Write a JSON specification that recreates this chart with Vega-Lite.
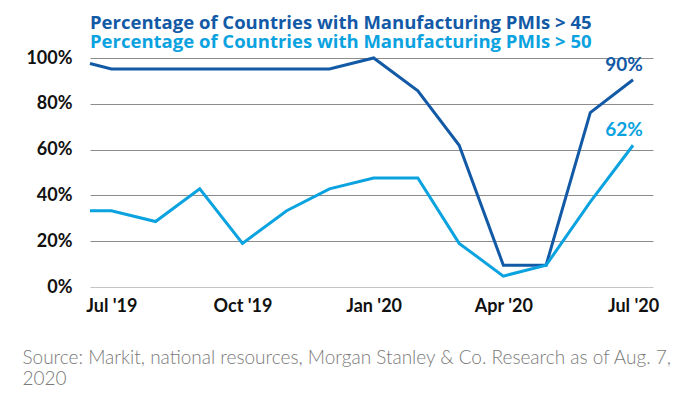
{
  "$schema": "https://vega.github.io/schema/vega-lite/v6.json",
  "autosize": {"type": "none"},
  "width": 563,
  "height": 229,
  "padding": {"left": 90, "top": 58, "right": 47, "bottom": 112},
  "background": "white",
  "config": {"view": {"stroke": null}, "font": "Lato"},
  "title": {
    "text": "Percentage of Countries with Manufacturing PMIs > 45",
    "subtitle": "Percentage of Countries with Manufacturing PMIs > 50",
    "anchor": "start",
    "frame": "group",
    "font": "Open Sans",
    "fontSize": 18.5,
    "fontWeight": "bold",
    "color": "#1259a6",
    "subtitleFont": "Open Sans",
    "subtitleFontSize": 18.5,
    "subtitleFontWeight": "bold",
    "subtitleColor": "#0ba2e0",
    "subtitlePadding": 0,
    "offset": -2
  },
  "data": {
    "values": [
      {"month": "2019-06-16", "series": "> 45", "value": 0.976},
      {"month": "2019-07-01", "series": "> 45", "value": 0.9524},
      {"month": "2019-08-01", "series": "> 45", "value": 0.9524},
      {"month": "2019-09-01", "series": "> 45", "value": 0.9524},
      {"month": "2019-10-01", "series": "> 45", "value": 0.9524},
      {"month": "2019-11-01", "series": "> 45", "value": 0.9524},
      {"month": "2019-12-01", "series": "> 45", "value": 0.9524},
      {"month": "2020-01-01", "series": "> 45", "value": 1.0},
      {"month": "2020-02-01", "series": "> 45", "value": 0.8571},
      {"month": "2020-03-01", "series": "> 45", "value": 0.619},
      {"month": "2020-04-01", "series": "> 45", "value": 0.0952},
      {"month": "2020-05-01", "series": "> 45", "value": 0.0952},
      {"month": "2020-06-01", "series": "> 45", "value": 0.7619},
      {"month": "2020-07-01", "series": "> 45", "value": 0.9048},
      {"month": "2019-06-16", "series": "> 50", "value": 0.3333},
      {"month": "2019-07-01", "series": "> 50", "value": 0.3333},
      {"month": "2019-08-01", "series": "> 50", "value": 0.2857},
      {"month": "2019-09-01", "series": "> 50", "value": 0.4286},
      {"month": "2019-10-01", "series": "> 50", "value": 0.1905},
      {"month": "2019-11-01", "series": "> 50", "value": 0.3333},
      {"month": "2019-12-01", "series": "> 50", "value": 0.4286},
      {"month": "2020-01-01", "series": "> 50", "value": 0.4762},
      {"month": "2020-02-01", "series": "> 50", "value": 0.4762},
      {"month": "2020-03-01", "series": "> 50", "value": 0.1905},
      {"month": "2020-04-01", "series": "> 50", "value": 0.0476},
      {"month": "2020-05-01", "series": "> 50", "value": 0.0952},
      {"month": "2020-06-01", "series": "> 50", "value": 0.3714},
      {"month": "2020-07-01", "series": "> 50", "value": 0.619}
    ]
  },
  "encoding": {
    "x": {
      "field": "month",
      "type": "temporal",
      "scale": {
        "type": "utc",
        "domain": [
          {"year": 2019, "month": 6, "date": 16, "utc": true},
          {"year": 2020, "month": 7, "date": 15, "utc": true}
        ]
      },
      "axis": {
        "values": [
          {"year": 2019, "month": 7, "date": 1, "utc": true},
          {"year": 2019, "month": 10, "date": 1, "utc": true},
          {"year": 2020, "month": 1, "date": 1, "utc": true},
          {"year": 2020, "month": 4, "date": 1, "utc": true},
          {"year": 2020, "month": 7, "date": 1, "utc": true}
        ],
        "labelExpr": "utcFormat(datum.value, \"%b '%y\")",
        "grid": false,
        "ticks": false,
        "domain": false,
        "labelFont": "Lato",
        "labelFontSize": 18,
        "labelFontWeight": "bold",
        "labelColor": "#111111",
        "labelPadding": 10,
        "title": ["Source: Markit, national resources, Morgan Stanley & Co. Research as of Aug. 7,", "2020"],
        "titleAnchor": "start",
        "titleAlign": "left",
        "titleBaseline": "alphabetic",
        "titleX": -68,
        "titleY": 76,
        "titleFont": "Lato",
        "titleFontSize": 19,
        "titleFontWeight": 300,
        "titleColor": "#7a7a7a",
        "titleLineHeight": 21
      }
    },
    "y": {
      "field": "value",
      "type": "quantitative",
      "scale": {"domain": [0, 1], "nice": false},
      "axis": {
        "values": [0, 0.2, 0.4, 0.6, 0.8, 1],
        "format": ".0%",
        "title": null,
        "ticks": false,
        "domain": false,
        "labelFont": "Lato",
        "labelFontSize": 18,
        "labelFontWeight": "bold",
        "labelColor": "#111111",
        "labelPadding": 18,
        "gridColor": {"condition": {"test": "datum.value === 0", "value": "#c4c4c4"}, "value": "#8c8c8c"},
        "gridWidth": 1
      }
    },
    "color": {
      "field": "series",
      "type": "nominal",
      "scale": {"domain": ["> 45", "> 50"], "range": ["#1259a6", "#0ba2e0"]},
      "legend": null
    }
  },
  "layer": [
    {"mark": {"type": "line", "strokeWidth": 3, "strokeJoin": "miter", "clip": false}},
    {
      "transform": [{"filter": "utcyear(datum.month) === 2020 && utcmonth(datum.month) === 6"}],
      "mark": {"type": "text", "font": "Lato", "fontSize": 19, "fontWeight": "bold", "align": "center", "baseline": "alphabetic", "dx": -9, "dy": -9},
      "encoding": {"text": {"field": "value", "type": "quantitative", "format": ".0%"}}
    }
  ]
}
